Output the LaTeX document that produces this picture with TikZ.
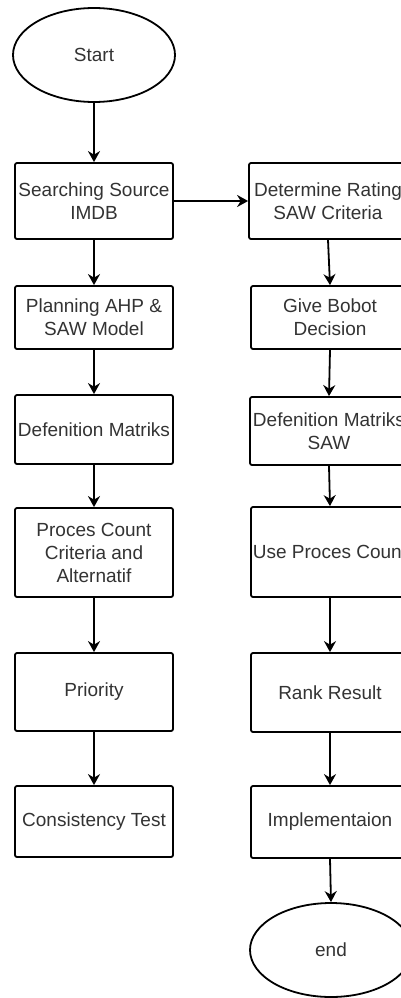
\documentclass[tikz,border=0pt]{standalone}
\usepackage{fontspec}
\setmainfont{Liberation Sans}
\usetikzlibrary{shapes.geometric,arrows.meta}
\begin{document}
\begin{tikzpicture}[x=1pt,y=-1pt,
  box/.style={draw=black,line width=1.8pt,rounded corners=2pt,rectangle,minimum width=158pt,align=center,inner sep=0pt,text=black!80,font=\fontsize{19}{23}\selectfont},
  term/.style={draw=black,line width=1.8pt,ellipse,minimum width=162pt,minimum height=94pt,inner sep=0pt,text=black!80,font=\fontsize{19}{23}\selectfont},
  flow/.style={line width=1.8pt,-{Stealth[length=11pt,width=12pt]}}]
\useasboundingbox (0,0) rectangle (401,998);
\fill[white] (0,0) rectangle (401,998);
% left column
\node[term] (start) at (94,55) {Start};
\node[box,minimum height=76pt] (l1) at (94,201) {Searching Source\\IMDB};
\node[box,minimum height=63pt] (l2) at (94,317.5) {Planning AHP \&\\SAW Model};
\node[box,minimum height=69pt] (l3) at (94,429.5) {Defenition Matriks};
\node[box,minimum height=89pt] (l4) at (94,552.5) {Proces Count\\Criteria and\\Alternatif};
\node[box,minimum height=78pt] (l5) at (94,692) {Priority};
\node[box,minimum height=71pt] (l6) at (94,821.5) {Consistency Test};
% right column
\node[box,minimum height=76pt] (r1) at (328,201) {Determine Rating\\SAW Criteria};
\node[box,minimum height=63pt] (r2) at (330,317.5) {Give Bobot\\Decision};
\node[box,minimum height=68pt] (r3) at (329,431) {Defenition Matriks\\SAW};
\node[box,minimum height=90pt] (r4) at (330,552) {Use Proces Count};
\node[box,minimum height=79pt] (r5) at (330,692.5) {Rank Result};
\node[box,minimum height=72pt] (r6) at (330,822) {Implementaion};
\node[term] (end) at (331,950) {end};
% connectors
\draw[flow] (start.south) -- (l1.north);
\draw[flow] (l1.south) -- (l2.north);
\draw[flow] (l2.south) -- (l3.north);
\draw[flow] (l3.south) -- (l4.north);
\draw[flow] (l4.south) -- (l5.north);
\draw[flow] (l5.south) -- (l6.north);
\draw[flow] (l1.east) -- (r1.west);
\draw[flow] (r1.south) -- (r2.north);
\draw[flow] (r2.south) -- (r3.north);
\draw[flow] (r3.south) -- (r4.north);
\draw[flow] (r4.south) -- (r5.north);
\draw[flow] (r5.south) -- (r6.north);
\draw[flow] (r6.south) -- (end.north);
\end{tikzpicture}
\end{document}
